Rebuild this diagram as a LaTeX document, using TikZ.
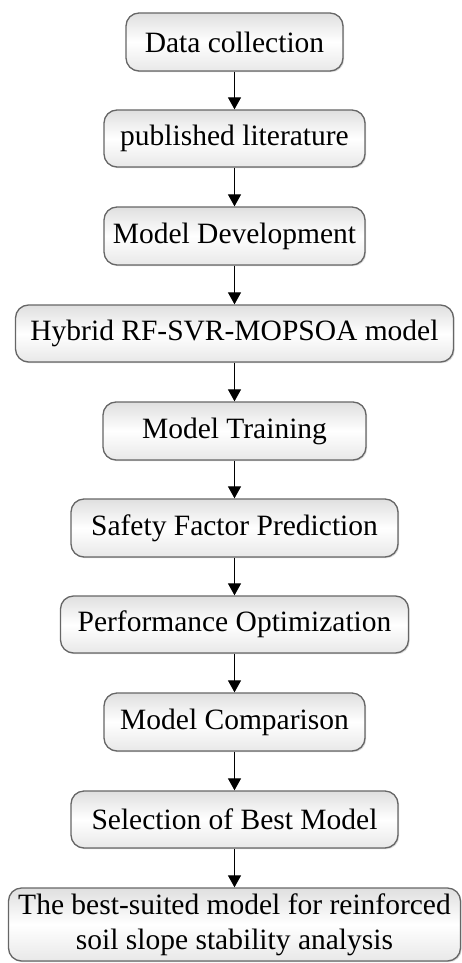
\documentclass[tikz,border=0pt]{standalone}
\usepackage{fontspec}
\setmainfont{Liberation Serif}
\usetikzlibrary{arrows.meta,shadows}
\begin{document}
\begin{tikzpicture}[x=1pt,y=-1pt,
  box/.style={draw=gray!80!black, line width=1.3pt, rounded corners=13pt,
    top color=gray!25, bottom color=gray!18, middle color=white,
    drop shadow={opacity=0.3, shadow xshift=1.2pt, shadow yshift=-1.2pt},
    font=\fontsize{29.5}{35}\selectfont, align=center, inner sep=0pt},
  arr/.style={line width=1.2pt, -{Triangle[width=13pt,length=12pt]}}]
\useasboundingbox (0,0) rectangle (462,963);
\node[box, minimum width=217pt, minimum height=58pt] (n1) at (234.5,42) {Data collection};
\node[box, minimum width=261pt, minimum height=57pt] (n2) at (234.5,138.5) {published literature};
\node[box, minimum width=261pt, minimum height=58pt] (n3) at (234.5,236) {Model Development};
\node[box, minimum width=438pt, minimum height=57pt] (n4) at (234.5,333.5) {Hybrid RF-SVR-MOPSOA model};
\node[box, minimum width=263pt, minimum height=58pt] (n5) at (234.5,431) {Model Training};
\node[box, minimum width=327pt, minimum height=58pt] (n6) at (234.5,528) {Safety Factor Prediction};
\node[box, minimum width=348pt, minimum height=57pt] (n7) at (234.5,624.5) {Performance Optimization};
\node[box, minimum width=261pt, minimum height=58pt] (n8) at (234.5,722) {Model Comparison};
\node[box, minimum width=327pt, minimum height=57pt] (n9) at (234.5,819.5) {Selection of Best Model};
\node[box, minimum width=452pt, minimum height=73pt] (n10) at (234.5,924.5) {The best-suited model for reinforced\\soil slope stability analysis};
\foreach \a/\b in {n1/n2,n2/n3,n3/n4,n4/n5,n5/n6,n6/n7,n7/n8,n8/n9,n9/n10}
  \draw[arr] (\a.south) -- (\b.north);
\end{tikzpicture}
\end{document}
